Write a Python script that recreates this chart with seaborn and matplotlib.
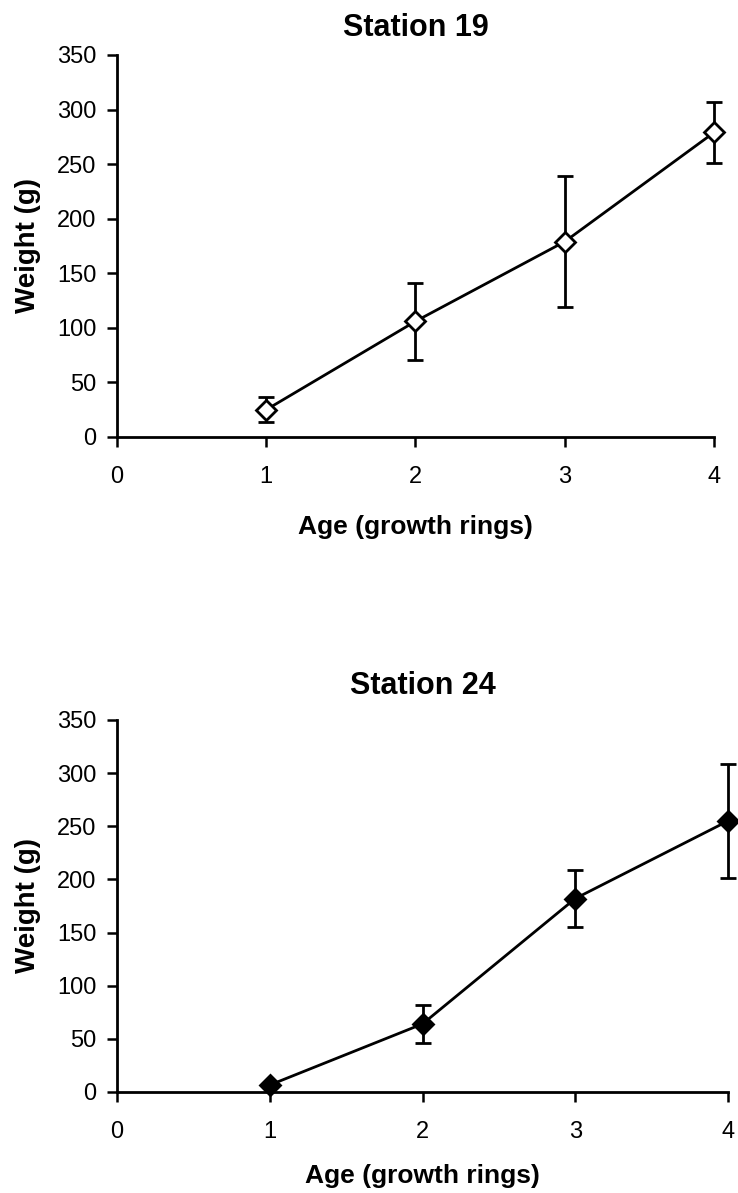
"""
Weight at age for two stations, mean +/- error.
"""

import numpy as np
import pandas as pd
import matplotlib
matplotlib.use('Agg')
import matplotlib.pyplot as plt
import seaborn as sns

# Data
ages = [1, 2, 3, 4]
weight_st19 = [25, 106, 179, 279]
err_st19 = [11.5, 35, 60, 27.5]
weight_st24 = [6.5, 64, 182, 255]
err_st24 = [2, 18, 27, 54]

sns.set_theme(style='ticks')
plt.rcParams['font.family'] = ['Liberation Sans', 'DejaVu Sans']
plt.rcParams['text.color'] = 'black'
plt.rcParams['axes.labelcolor'] = 'black'

fig = plt.figure(figsize=(7.38, 11.93), dpi=100)
ax_top = fig.add_axes([0.1585, 0.6337, 0.809, 0.3202])
ax_bot = fig.add_axes([0.1585, 0.0847, 0.828, 0.3118])


def draw_panel(ax, weights, errs, title, face, title_pad, xlab_pad):
    df = pd.DataFrame({'age': ages, 'weight': weights})
    ax.errorbar(df['age'], df['weight'], yerr=errs, fmt='none',
                ecolor='black', elinewidth=2, capsize=6, capthick=2,
                zorder=2, clip_on=False)
    sns.lineplot(data=df, x='age', y='weight', ax=ax, color='black',
                 linewidth=2, marker='D', markersize=10,
                 markerfacecolor=face, markeredgecolor='black',
                 markeredgewidth=2, zorder=3, clip_on=False)

    ax.set_xlim(0, 4)
    ax.set_ylim(0, 350)
    ax.set_xticks(range(0, 5))
    ax.set_yticks(range(0, 351, 50))
    sns.despine(ax=ax)
    for side in ['left', 'bottom']:
        ax.spines[side].set_linewidth(2)
        ax.spines[side].set_color('black')
    ax.tick_params(axis='x', direction='out', length=7, width=1.8,
                   pad=14, labelsize=17, colors='black')
    ax.tick_params(axis='y', direction='out', length=7, width=1.8,
                   pad=8, labelsize=17, colors='black')

    ax.set_title(title, fontsize=22, fontweight='bold', pad=title_pad,
                 color='black')
    ax.set_xlabel('Age (growth rings)', fontsize=19, fontweight='bold',
                  labelpad=xlab_pad)
    ax.set_ylabel('Weight (g)', fontsize=20, fontweight='bold', labelpad=11)


draw_panel(ax_top, weight_st19, err_st19, 'Station 19', 'white', 14, 19)
draw_panel(ax_bot, weight_st24, err_st24, 'Station 24', 'black', 19, 15)

fig.savefig('out.png', dpi=100)
plt.close(fig)
